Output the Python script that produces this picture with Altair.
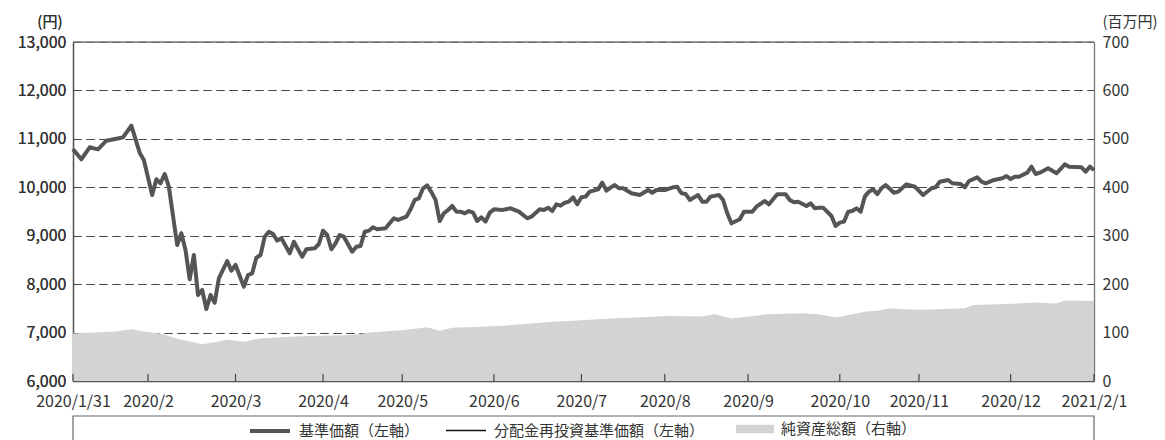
import altair as alt
import pandas as pd

# ---- data (business-day index from 2020/1/31 = 0 to 2021/2/1 = 245) ----
nav_idx = [0, 2, 4, 6, 8, 11, 12, 14, 16, 17, 19, 20, 21, 22, 23, 25, 26, 27, 28, 29,
           30, 31, 32, 33, 34, 35, 37, 38, 39, 41, 42, 43, 44, 45, 46, 47, 48, 49, 50, 52,
           53, 55, 56, 58, 59, 60, 61, 62, 63, 64, 65, 67, 68, 69, 70, 71, 72, 73, 75, 77,
           78, 80, 81, 82, 83, 84, 85, 86, 87, 88, 89, 90, 91, 92, 93, 94, 95, 96, 97, 98,
           99, 100, 101, 103, 105, 107, 109, 110, 112, 113, 114, 115, 116, 117, 118, 119, 120, 121, 122, 123,
           124, 126, 127, 128, 129, 130, 131, 132, 134, 136, 138, 139, 140, 142, 144, 145, 146, 147, 148, 150,
           151, 152, 153, 155, 156, 157, 158, 160, 161, 163, 164, 166, 167, 169, 171, 172, 173, 174, 176, 177,
           178, 179, 180, 182, 183, 184, 185, 186, 187, 188, 189, 190, 191, 192, 193, 194, 195, 197, 198, 200,
           202, 204, 206, 207, 208, 210, 211, 213, 214, 215, 217, 218, 219, 221, 223, 224, 225, 226, 227, 229,
           230, 231, 232, 234, 236, 238, 239, 242, 243, 244, 245]
nav_val = [10784, 10578, 10826, 10784, 10962, 11012, 11030, 11272, 10714, 10563, 9841, 10165, 10083, 10275, 10012, 8808, 9050, 8705, 8100, 8602,
           7776, 7880, 7487, 7776, 7617, 8121, 8478, 8278, 8396, 7948, 8189, 8224, 8546, 8602, 8980, 9083, 9035, 8900, 8947, 8637,
           8876, 8567, 8720, 8740, 8829, 9104, 9015, 8720, 8844, 9015, 8980, 8670, 8773, 8788, 9083, 9104, 9174, 9133, 9153, 9360,
           9325, 9393, 9545, 9738, 9773, 9979, 10040, 9900, 9740, 9304, 9463, 9531, 9614, 9496, 9496, 9463, 9510, 9476, 9304, 9380,
           9290, 9476, 9545, 9531, 9566, 9496, 9360, 9393, 9545, 9531, 9579, 9510, 9648, 9620, 9682, 9703, 9793, 9648, 9793, 9807,
           9910, 9958, 10095, 9930, 9992, 10047, 9979, 9979, 9876, 9841, 9944, 9888, 9944, 9944, 10000, 10010, 9876, 9862, 9738, 9841,
           9703, 9703, 9807, 9841, 9738, 9463, 9256, 9339, 9496, 9496, 9600, 9717, 9648, 9855, 9855, 9738, 9690, 9703, 9614, 9669,
           9566, 9579, 9579, 9407, 9201, 9270, 9290, 9496, 9510, 9566, 9496, 9807, 9910, 9958, 9860, 9979, 10047, 9888, 9910, 10061,
           10012, 9841, 9979, 10000, 10116, 10151, 10083, 10068, 10000, 10130, 10206, 10116, 10083, 10151, 10185, 10233, 10171, 10219, 10219, 10302,
           10426, 10275, 10302, 10392, 10289, 10474, 10426, 10413, 10322, 10426, 10357]

asset_idx = [0, 10, 14, 17, 21, 25, 29, 31, 34, 37, 41, 45, 51, 56, 67, 71, 79, 85, 88, 91,
             98, 103, 111, 114, 119, 127, 135, 143, 151, 154, 158, 167, 175, 179, 183, 187, 190, 193, 196, 199,
             204, 214, 216, 224, 231, 236, 238, 245]
asset_val = [98, 102, 107, 102, 98, 87, 80, 76, 80, 85, 81, 88, 91, 93, 95, 100, 105, 111, 104, 110,
             112, 114, 119, 122, 124, 128, 131, 134, 133, 138, 129, 138, 140, 138, 131, 138, 143, 145, 150, 148,
             147, 150, 157, 159, 162, 160, 166, 165]

tick_idx = [0, 18, 39, 60, 79, 101, 122, 142, 162, 184, 203, 225, 245]
tick_lbl = ["2020/1/31", "2020/2", "2020/3", "2020/4", "2020/5", "2020/6", "2020/7",
            "2020/8", "2020/9", "2020/10", "2020/11", "2020/12", "2021/2/1"]

line_series = ["基準価額（左軸）", "分配金再投資基準価額（左軸）"]
area_series = ["純資産総額（右軸）"]

FONT = "Noto Sans CJK JP"
W, H = 1021, 339

df_nav = pd.DataFrame({"idx": nav_idx, "v": nav_val, "s": line_series[0]})
df_re = pd.DataFrame({"idx": nav_idx, "v": nav_val, "s": line_series[1]})
df_as = pd.DataFrame({"idx": asset_idx, "a": asset_val, "s": area_series[0]})
df_tick = pd.DataFrame({"idx": tick_idx})

lbl_expr = "[" + ",".join("'%s'" % t for t in tick_lbl) + "][indexof([" + ",".join(str(t) for t in tick_idx) + "], datum.value)]"

xenc = alt.X("idx:Q", scale=alt.Scale(domain=[0, 245], nice=False, zero=False),
             axis=alt.Axis(values=tick_idx, labelExpr=lbl_expr, title=None, grid=False, ticks=False,
                           domainColor="#555", domainWidth=1.3, labelPadding=12, labelFontSize=16,
                           labelFont=FONT, labelColor="#333", labelOverlap=False, labelFlush=False))

cscale = alt.Scale(domain=line_series, range=["#555555", "#111111"])
wscale = alt.Scale(type="ordinal", domain=line_series, range=[4, 1.6])
fscale = alt.Scale(domain=area_series, range=["#d3d3d5"])

leg_common = dict(title=None, orient="none", direction="horizontal", labelFont=FONT, labelFontSize=15,
                  labelColor="#333", labelOffset=7, padding=0, symbolOpacity=1, labelLimit=400)
leg_lines = alt.Legend(legendX=175, legendY=367, symbolType="stroke", symbolSize=1600,
                       columnPadding=22, **leg_common)
leg_area = alt.Legend(legendX=663, legendY=368, symbolType="M-1,-0.22H1V0.22H-1Z", symbolSize=1444,
                      symbolStrokeWidth=0, **leg_common)

yleft = alt.Y("v:Q", scale=alt.Scale(domain=[6000, 13000], nice=False, zero=False),
              axis=alt.Axis(orient="left", values=list(range(6000, 13001, 1000)), format=",d",
                            title="(円)", titleAngle=0, titleX=-11, titleY=-21, titleAlign="right",
                            titleBaseline="middle", titleFont=FONT, titleFontSize=15, titleFontWeight="normal",
                            titleColor="#333", labelFont=FONT, labelFontSize=16, labelColor="#333",
                            labelPadding=7, ticks=False, grid=True, gridDash=[8, 5], gridColor="#444",
                            gridWidth=1, domainColor="#555", domainWidth=1.3))

area = alt.Chart(df_as).mark_area(opacity=1).encode(
    x=xenc,
    y=alt.Y("a:Q", scale=alt.Scale(domain=[0, 700], nice=False),
            axis=alt.Axis(orient="right", values=list(range(0, 701, 100)), title="(百万円)",
                          titleAngle=0, titleX=8, titleY=-21, titleAlign="left", titleBaseline="middle",
                          titleFont=FONT, titleFontSize=15, titleFontWeight="normal", titleColor="#333",
                          labelFont=FONT, labelFontSize=16, labelColor="#333", labelPadding=8,
                          ticks=False, grid=False, domainColor="#777", domainWidth=1.3)),
    fill=alt.Fill("s:N", scale=fscale, legend=leg_area),
)

line_re = alt.Chart(df_re).mark_line().encode(
    x=xenc, y=yleft,
    color=alt.Color("s:N", scale=cscale, legend=leg_lines),
    strokeWidth=alt.StrokeWidth("s:N", scale=wscale, legend=leg_lines),
)
line_nav = alt.Chart(df_nav).mark_line(strokeJoin="round").encode(
    x=xenc, y=yleft,
    color=alt.Color("s:N", scale=cscale, legend=leg_lines),
    strokeWidth=alt.StrokeWidth("s:N", scale=wscale, legend=leg_lines),
)

ticks = alt.Chart(df_tick).mark_rule(color="#444", strokeWidth=1.2).encode(
    x=alt.X("idx:Q"), y=alt.value(H - 7), y2=alt.value(H))

top_border = alt.Chart(pd.DataFrame({"k": [0]})).mark_rule(color="#777", strokeWidth=1.3).encode(
    x=alt.value(0), x2=alt.value(W), y=alt.value(0))

box = alt.Chart(pd.DataFrame({"k": [0]})).mark_rect(filled=False, stroke="#666", strokeWidth=1.2).encode(
    x=alt.value(0), x2=alt.value(W), y=alt.value(374), y2=alt.value(420))

chart = alt.layer(area, line_re, line_nav, ticks, top_border, box).resolve_scale(y="independent").properties(
    width=W, height=H,
    autosize=alt.AutoSizeParams(type="none"),
    padding={"left": 65, "top": 34, "right": 63, "bottom": 90},
).configure_view(stroke="#777", strokeWidth=1.2).configure(background="white")

chart.save("out.html", embed_options={"renderer": "svg", "actions": False})
